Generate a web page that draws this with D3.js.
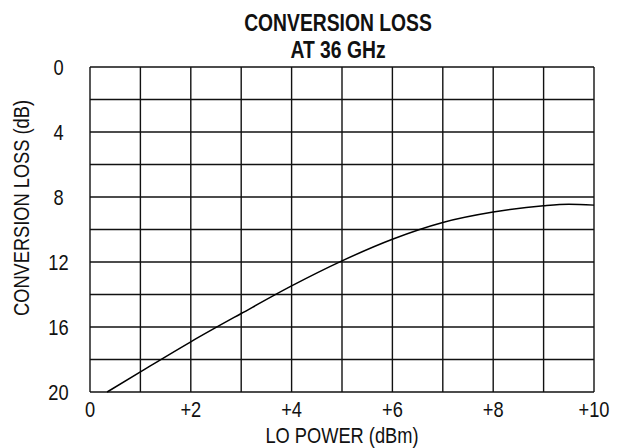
<!DOCTYPE html>
<html>
<head>
<meta charset="utf-8">
<script src="https://cdn.jsdelivr.net/npm/d3@7"></script>
<style>
  html, body { margin: 0; padding: 0; background: #fff; }
  svg { display: block; }
  text { font-family: "Liberation Sans Narrow", "Arial Narrow", "Liberation Sans", Arial, sans-serif; fill: #111; }
</style>
</head>
<body>
<svg id="chart" width="622" height="448"></svg>
<script>
// Data
const loPower = [0.34, 1, 2, 3, 4, 5, 6, 7, 8, 9, 9.5, 10];
const convLoss = [20, 18.76, 16.91, 15.17, 13.47, 11.93, 10.6, 9.57, 8.93, 8.54, 8.45, 8.5];
const xTicks = [0, 2, 4, 6, 8, 10];
const xTickLabels = ["0", "+2", "+4", "+6", "+8", "+10"];
const yTicks = [0, 4, 8, 12, 16, 20];
const yTickLabels = ["0", "4", "8", "12", "16", "20"];
const xGrid = [0, 1, 2, 3, 4, 5, 6, 7, 8, 9, 10];
const yGrid = [0, 2, 4, 6, 8, 10, 12, 14, 16, 18, 20];
const titleLines = ["CONVERSION LOSS", "AT 36 GHz"];
const xTitle = "LO POWER (dBm)";
const yTitle = "CONVERSION LOSS (dB)";

const svg = d3.select("#chart");
const mLeft = 90, mRight = 594, mTop = 67, mBottom = 392;
const narrow = 0.83; // horizontal condensing of the sans face

const x = d3.scaleLinear().domain([0, 10]).range([mLeft, mRight]);
const y = d3.scaleLinear().domain([0, 20]).range([mTop, mBottom]);

const gridColor = "#111";
const gridWidth = 1.4;

// vertical grid
svg.append("g").selectAll("line").data(xGrid).join("line")
  .attr("x1", d => x(d)).attr("x2", d => x(d))
  .attr("y1", mTop).attr("y2", mBottom)
  .attr("stroke", gridColor).attr("stroke-width", gridWidth);

// horizontal grid
svg.append("g").selectAll("line").data(yGrid).join("line")
  .attr("x1", mLeft).attr("x2", mRight)
  .attr("y1", d => y(d)).attr("y2", d => y(d))
  .attr("stroke", gridColor).attr("stroke-width", gridWidth);

// curve
const line = d3.line()
  .x((d, i) => x(loPower[i]))
  .y(d => y(d))
  .curve(d3.curveMonotoneX);
svg.append("path")
  .datum(convLoss)
  .attr("d", line)
  .attr("fill", "none")
  .attr("stroke", "#000")
  .attr("stroke-width", 1.5);

// x tick labels
svg.append("g").selectAll("text").data(xTicks).join("text")
  .attr("transform", d => `translate(${x(d)},417) scale(${narrow},1)`)
  .attr("text-anchor", "middle")
  .attr("font-size", 22)
  .text((d, i) => xTickLabels[i]);

// y tick labels
svg.append("g").selectAll("text").data(yTicks).join("text")
  .attr("transform", d => `translate(58.5,${y(d) + 7.5}) scale(${narrow},1)`)
  .attr("text-anchor", "middle")
  .attr("font-size", 22)
  .text((d, i) => yTickLabels[i]);

// title
svg.append("g").selectAll("text").data(titleLines).join("text")
  .attr("transform", (d, i) => `translate(338,${31 + i * 26.5}) scale(0.84,1)`)
  .attr("text-anchor", "middle")
  .attr("font-size", 23)
  .attr("font-weight", "bold")
  .text(d => d);

// x axis title
svg.append("text")
  .attr("transform", `translate(${(mLeft + mRight) / 2},443) scale(${narrow},1)`)
  .attr("text-anchor", "middle")
  .attr("font-size", 22)
  .text(xTitle);

// y axis title
svg.append("text")
  .attr("transform", `translate(29,208) rotate(-90) scale(${narrow},1)`)
  .attr("text-anchor", "middle")
  .attr("font-size", 22)
  .text(yTitle);
</script>
</body>
</html>
